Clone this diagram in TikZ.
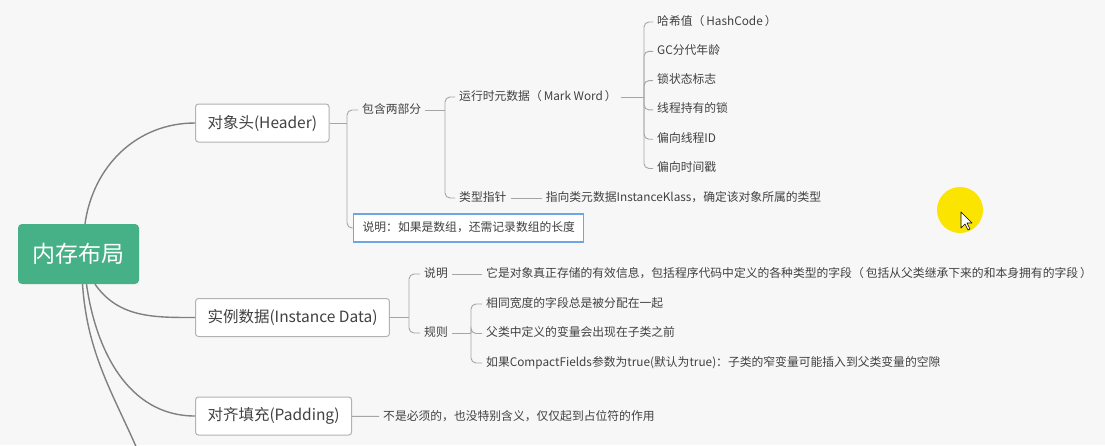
\documentclass[tikz,border=0pt]{standalone}
\usepackage{fontspec}
\newfontfamily\cjk{Noto Sans CJK SC}
\usetikzlibrary{positioning}
\definecolor{rootgreen}{RGB}{70,176,134}
\definecolor{canvasgray}{RGB}{247,247,247}
\definecolor{linkgray}{RGB}{165,165,165}
\definecolor{trunkgray}{RGB}{128,128,128}
\definecolor{inkgray}{RGB}{65,65,65}
\definecolor{boxgray}{RGB}{178,178,178}
\definecolor{selectblue}{RGB}{110,165,230}
\definecolor{cursoryellow}{RGB}{250,228,0}

\begin{document}
\begin{tikzpicture}[
    x=1pt, y=1pt,
    rootbox/.style={rectangle, rounded corners=4pt, fill=rootgreen, text=white, minimum width=121pt, minimum height=60pt, font=\cjk\fontsize{23}{26}\selectfont},
    topicbox/.style={rectangle, rounded corners=3pt, draw=boxgray, fill=white, line width=1pt, inner xsep=12pt, minimum height=38pt, text=inkgray, font=\cjk\fontsize{15.5}{18}\selectfont, anchor=west},
    leaf/.style={inner xsep=4pt, inner ysep=0pt, text height=9pt, text depth=3pt, text=inkgray, font=\cjk\fontsize{11.8}{14}\selectfont, anchor=west},
    notebox/.style={leaf, draw=selectblue, fill=white, line width=1.2pt, inner xsep=9pt, text width=212pt, align=left, minimum height=28pt},
    trunk/.style={draw=trunkgray, line width=1.4pt},
    twig/.style={draw=linkgray, line width=0.9pt, rounded corners=5pt}
]

\useasboundingbox (0,0) rectangle (1105,-445);
\fill[canvasgray] (0,0) rectangle (1105,-445);
\clip (0,0) rectangle (1105,-445);

% Main topics
\node[rootbox] (root) at (78.5,-254) {内存布局};
\node[topicbox] (header) at (195,-123) {对象头(Header)};
\node[topicbox] (instance) at (195,-317.5) {实例数据(Instance Data)};
\node[topicbox] (padding) at (195,-416) {对齐填充(Padding)};
\coordinate (more) at (146,-470);

\draw[trunk] ([xshift=6.5pt]root.north) to[out=82, in=180] (header.west);
\draw[trunk] ([xshift=16.5pt]root.south) to[out=-55, in=180] (instance.west);
\draw[trunk] ([xshift=8pt]root.south) to[out=-82, in=180] (padding.west);
\draw[trunk] ([xshift=4pt]root.south) to[out=-86, in=112] (more);

% Header
\node[leaf] (twoparts) at (358,-110) {包含两部分};
\node[notebox] (arraynote) at (353,-228) {说明：如果是数组，还需记录数组的长度};
\coordinate (headerfork) at (347,-123);
\draw[twig] (header.east) -- (headerfork);
\draw[twig] (headerfork) |- (twoparts.west);
\draw[twig] (headerfork) |- (arraynote.west);

\node[leaf] (markword) at (455,-97) {运行时元数据（\,Mark Word\,）};
\node[leaf, below=101pt of markword.west, anchor=west] (klassptr) {类型指针};
\node[leaf, right=31pt of klassptr] (klassdesc) {指向类元数据InstanceKlass，确定该对象所属的类型};
\coordinate (partsfork) at (445,-110);
\draw[twig] (twoparts.east) -- (partsfork);
\draw[twig] (partsfork) |- (markword.west);
\draw[twig] (partsfork) |- (klassptr.west);
\draw[twig] (klassptr) -- (klassdesc);

\node[leaf] (hashcode) at (653,-22) {哈希值（\,HashCode\,）};
\node[leaf, below=29.3pt of hashcode.west, anchor=west] (gcage) {GC分代年龄};
\node[leaf, below=29.3pt of gcage.west, anchor=west] (lockflag) {锁状态标志};
\node[leaf, below=29.3pt of lockflag.west, anchor=west] (lockheld) {线程持有的锁};
\node[leaf, below=29.3pt of lockheld.west, anchor=west] (biasid) {偏向线程ID};
\node[leaf, below=29.3pt of biasid.west, anchor=west] (biastime) {偏向时间戳};
\coordinate (markfork) at (644,-97);
\draw[twig] (markword.east) -- (markfork);
\foreach \part in {hashcode, gcage, lockflag, lockheld, biasid, biastime}
    \draw[twig] (markfork) |- (\part.west);

% Instance data
\node[leaf] (idnote) at (420,-274) {说明};
\node[leaf] (idrule) at (420,-333) {规则};
\node[leaf, right=30pt of idnote] (iddesc) {它是对象真正存储的有效信息，包括程序代码中定义的各种类型的字段（\,包括从父类继承下来的和本身拥有的字段\,）};
\coordinate (instancefork) at (409,-317.5);
\draw[twig] (instance.east) -- (instancefork);
\draw[twig] (instancefork) |- (idnote.west);
\draw[twig] (instancefork) |- (idrule.west);
\draw[twig] (idnote) -- (iddesc);

\node[leaf] (sizerule) at (482,-304) {相同宽度的字段总是被分配在一起};
\node[leaf, below=29.5pt of sizerule.west, anchor=west] (orderrule) {父类中定义的变量会出现在子类之前};
\node[leaf, below=29.5pt of orderrule.west, anchor=west] (compactrule) {如果CompactFields参数为true(默认为true)：子类的窄变量可能插入到父类变量的空隙};
\coordinate (rulefork) at (471,-333);
\draw[twig] (idrule.east) -- (rulefork);
\foreach \rule in {sizerule, orderrule, compactrule}
    \draw[twig] (rulefork) |- (\rule.west);

% Padding
\node[leaf] (padnote) at (379,-417) {不是必须的，也没特别含义，仅仅起到占位符的作用};
\draw[twig] (padding) -- (padnote);

% Cursor highlight
\fill[cursoryellow] (960,-210) circle (23pt);
\draw[fill=white, line width=0.6pt, line join=round] (961,-212) -- ++(0,-16) -- ++(4,4) -- ++(3,-6) -- ++(2,1) -- ++(-3,6) -- ++(5,0) -- cycle;

\end{tikzpicture}
\end{document}
